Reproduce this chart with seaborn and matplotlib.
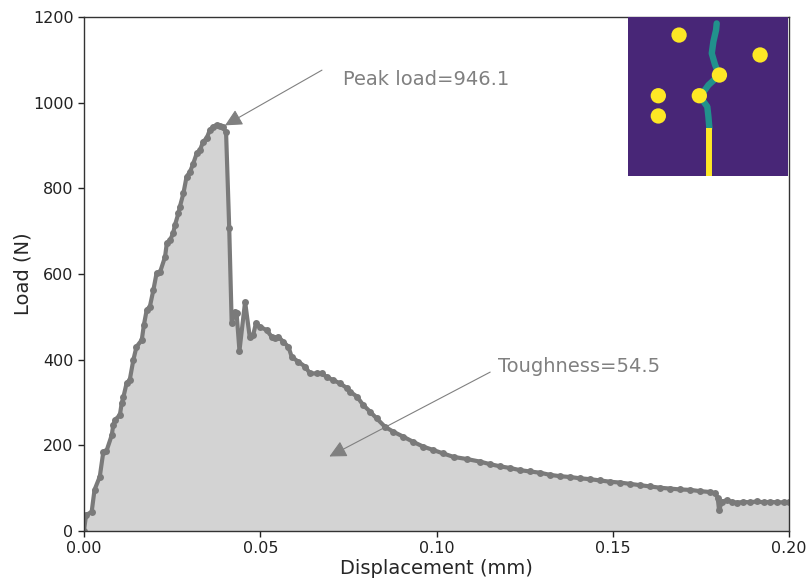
import numpy as np
import pandas as pd
import matplotlib
matplotlib.use("Agg")
import matplotlib.pyplot as plt
import seaborn as sns
from matplotlib.patches import Circle

# ---------------- data ----------------
displacement = [
    0.0000, 0.0006, 0.0022, 0.0030, 0.0045, 0.0055, 0.0064, 0.0079, 0.0083, 0.0088,
    0.0102, 0.0107, 0.0112, 0.0121, 0.0130, 0.0140, 0.0149, 0.0164, 0.0170, 0.0178,
    0.0187, 0.0197, 0.0206, 0.0216, 0.0230, 0.0235, 0.0244, 0.0253, 0.0258, 0.0268,
    0.0272, 0.0282, 0.0291, 0.0301, 0.0310, 0.0320, 0.0329, 0.0338, 0.0348, 0.0357,
    0.0367, 0.0376, 0.0386, 0.0393, 0.0403, 0.0412, 0.0419, 0.0428, 0.0433, 0.0441,
    0.0457, 0.0470, 0.0480, 0.0488, 0.0499, 0.0518, 0.0532, 0.0542, 0.0551, 0.0565,
    0.0580, 0.0589, 0.0608, 0.0627, 0.0641, 0.0660, 0.0674, 0.0688, 0.0707, 0.0726,
    0.0745, 0.0755, 0.0774, 0.0792, 0.0811, 0.0830, 0.0854, 0.0877, 0.0906, 0.0934,
    0.0962, 0.0991, 0.1019, 0.1048, 0.1086, 0.1123, 0.1152, 0.1180, 0.1209, 0.1237,
    0.1265, 0.1294, 0.1322, 0.1350, 0.1379, 0.1407, 0.1435, 0.1464, 0.1492, 0.1521,
    0.1549, 0.1577, 0.1606, 0.1634, 0.1662, 0.1691, 0.1719, 0.1748, 0.1776, 0.1790,
    0.1797, 0.1801, 0.1809, 0.1823, 0.1837, 0.1852, 0.1870, 0.1889, 0.1908, 0.1927,
    0.1946, 0.1965, 0.1984, 0.2000,
]
load = [
    0, 37, 45, 96, 127, 185, 187, 224, 247, 259,
    271, 298, 313, 345, 353, 399, 430, 446, 481, 516,
    524, 563, 602, 605, 640, 672, 679, 695, 714, 742,
    757, 788, 827, 839, 858, 882, 889, 909, 917, 936,
    944, 948, 946, 944, 932, 707, 485, 512, 508, 421,
    535, 454, 458, 486, 477, 469, 454, 450, 454, 442,
    430, 407, 395, 384, 368, 368, 368, 360, 352, 345,
    334, 325, 314, 294, 279, 263, 243, 232, 220, 208,
    197, 189, 181, 173, 168, 162, 156, 151, 147, 142,
    139, 136, 131, 128, 126, 123, 121, 118, 115, 113,
    110, 107, 104, 101, 99, 97, 96, 93, 91, 88,
    78, 49, 68, 72, 68, 66, 68, 67, 69, 67,
    68, 67, 67, 67,
]

peak_label = "Peak load=946.1"
toughness_label = "Toughness=54.5"

# inset (crack image) content, unit coordinates (y downward)
hole_u = [0.318, 0.826, 0.571, 0.445, 0.188, 0.188]
hole_v = [0.115, 0.240, 0.366, 0.496, 0.496, 0.623]
crack_u = [0.508, 0.502, 0.495, 0.450, 0.502, 0.571, 0.544, 0.523, 0.533, 0.550, 0.554]
crack_v = [0.700, 0.628, 0.565, 0.502, 0.429, 0.366, 0.303, 0.230, 0.157, 0.083, 0.042]
notch_u = [0.508, 0.508]
notch_v = [0.700, 1.000]

df = pd.DataFrame({"Displacement (mm)": displacement, "Load (N)": load})

# ---------------- figure ----------------
sns.set_style("ticks")
plt.rcParams["font.family"] = ["DejaVu Sans"]

fig = plt.figure(figsize=(8.07, 5.79), dpi=100)
ax = fig.add_axes([0.104, 0.0829, 0.874, 0.8877])

line_col = "#7a7a7a"
ax.fill_between(df["Displacement (mm)"], df["Load (N)"], color="#d3d3d3", lw=0)
sns.lineplot(data=df, x="Displacement (mm)", y="Load (N)", ax=ax, color=line_col,
             lw=3, marker="o", markersize=5, markeredgewidth=0, sort=False)

ax.set_xlim(0, 0.20)
ax.set_ylim(0, 1200)
ax.set_xticks([0.00, 0.05, 0.10, 0.15, 0.20])
ax.set_xticklabels(["0.00", "0.05", "0.10", "0.15", "0.20"])
ax.set_yticks([0, 200, 400, 600, 800, 1000, 1200])
ax.tick_params(labelsize=11.5, colors="#222222", length=4, width=1)
ax.set_xlabel("Displacement (mm)", fontsize=14, labelpad=2)
ax.set_ylabel("Load (N)", fontsize=14, labelpad=0)
for s in ax.spines.values():
    s.set_color("#333333")
    s.set_linewidth(1)

arrow = dict(arrowstyle="-|>", color="#808080", lw=0.8, mutation_scale=26,
             shrinkA=0, shrinkB=0)
ax.annotate("", xy=(0.0400, 947), xytext=(0.0675, 1076), arrowprops=arrow)
ax.text(0.0735, 1053, peak_label, fontsize=14, color="#808080", ha="left", va="center")
ax.annotate("", xy=(0.0696, 174), xytext=(0.1152, 371), arrowprops=arrow)
ax.text(0.1174, 385, toughness_label, fontsize=14, color="#808080", ha="left", va="center")

# ---------------- inset ----------------
ins = fig.add_axes([0.7786, 0.696, 0.1977, 0.2751])
ins.set_facecolor("#482677")
ins.set_xlim(0, 1)
ins.set_ylim(1, 0)
ins.set_xticks([])
ins.set_yticks([])
for s in ins.spines.values():
    s.set_visible(False)
ins.plot(notch_u, notch_v, color="#fde725", lw=4.3, solid_capstyle="butt", zorder=2)
ins.plot(crack_u, crack_v, color="#21918c", lw=4.6, solid_capstyle="round",
         solid_joinstyle="round", zorder=1)
for u, v in zip(hole_u, hole_v):
    ins.add_patch(Circle((u, v), 0.048, color="#fde725", lw=0, zorder=3))

fig.savefig("out.png", dpi=100)
